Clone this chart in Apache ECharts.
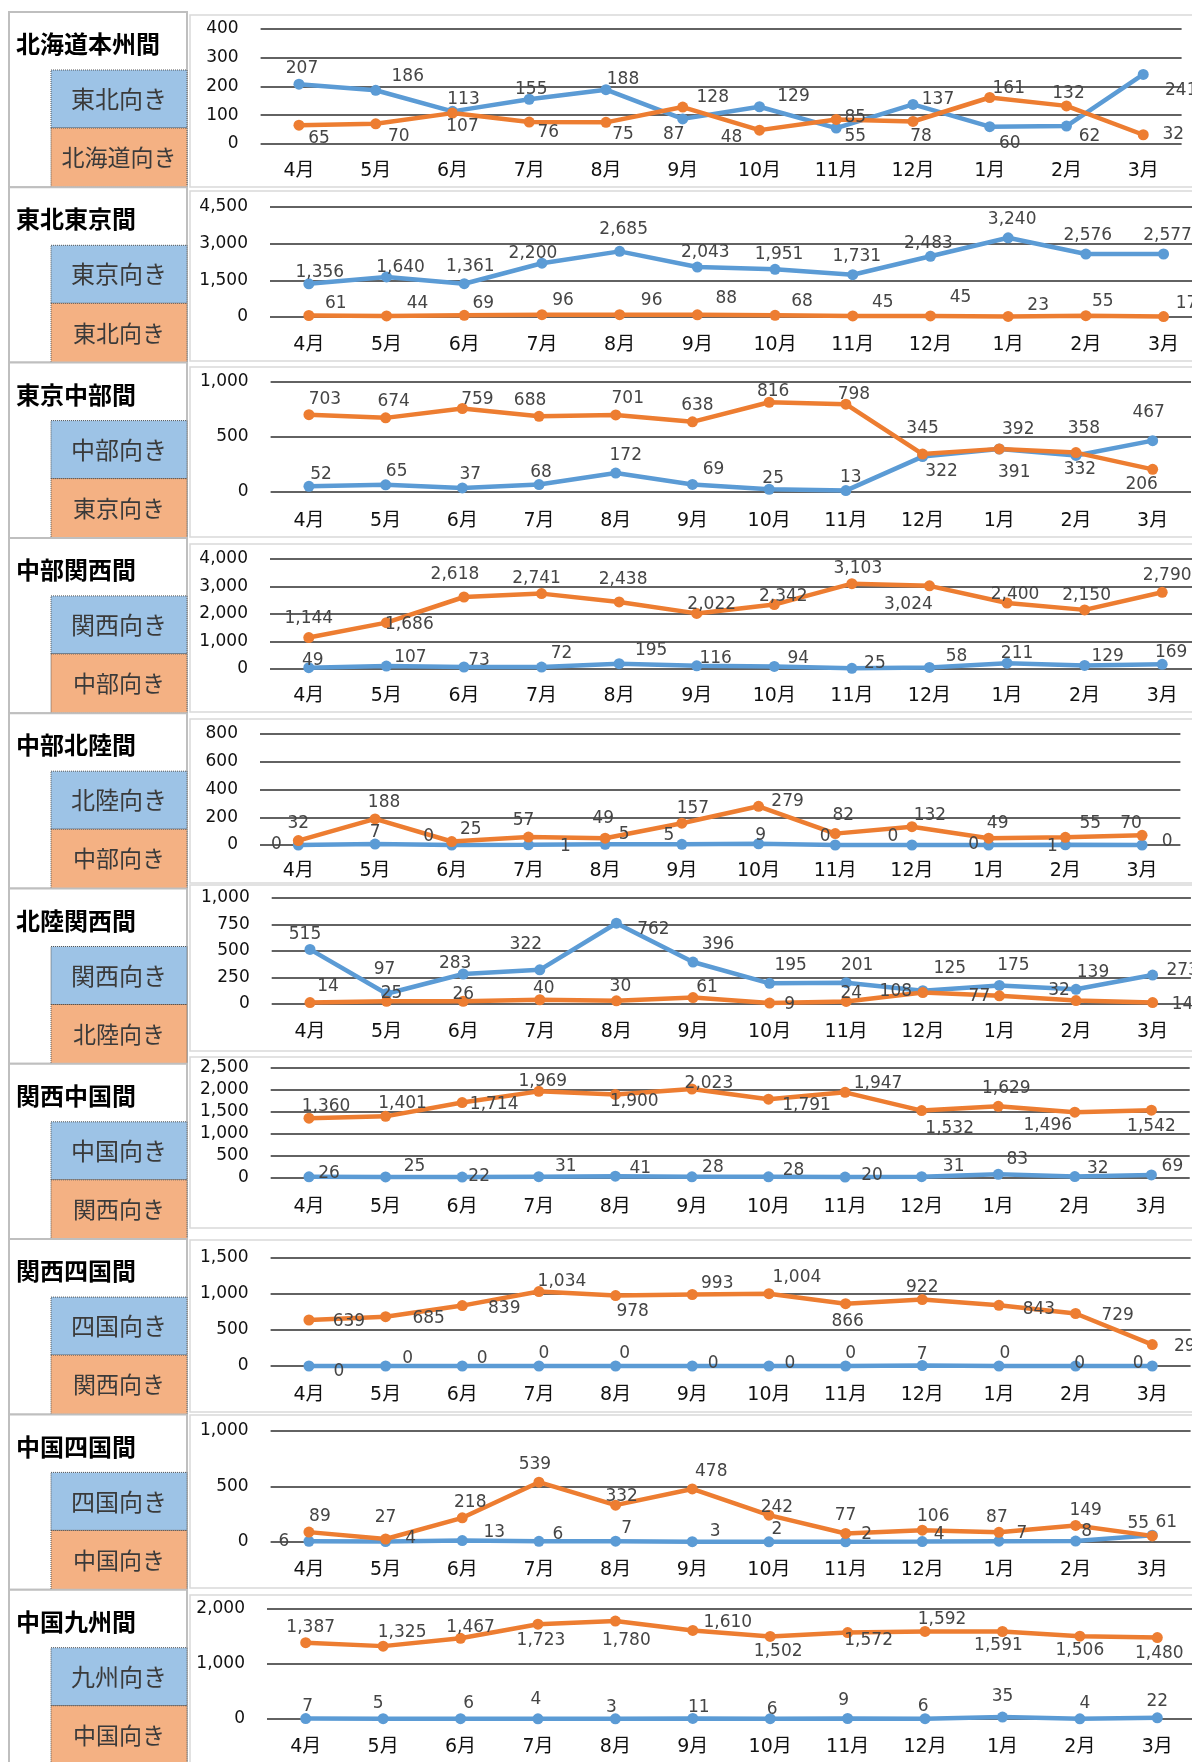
<!DOCTYPE html>
<html><head><meta charset="utf-8">
<script src="https://cdn.jsdelivr.net/npm/echarts/dist/echarts.min.js"></script>
<style>html,body{margin:0;padding:0;background:#fff}#c{width:1192px;height:1762px}</style>
</head><body><div id="c"></div><script>
// ---- data ----
const months = ['4月','5月','6月','7月','8月','9月','10月','11月','12月','1月','2月','3月'];
const titles = ['北海道本州間','東北東京間','東京中部間','中部関西間','中部北陸間','北陸関西間','関西中国間','関西四国間','中国四国間','中国九州間'];
const blueNames = ['東北向き','東京向き','中部向き','関西向き','北陸向き','関西向き','中国向き','四国向き','四国向き','九州向き'];
const orangeNames = ['北海道向き','東北向き','東京向き','中部向き','中部向き','北陸向き','関西向き','関西向き','中国向き','中国向き'];

const blue1 = [207,186,113,155,188,87,129,55,137,60,62,241];
const orange1 = [65,70,107,76,75,128,48,85,78,161,132,32];
const blue2 = [1356,1640,1361,2200,2685,2043,1951,1731,2483,3240,2576,2577];
const orange2 = [61,44,69,96,96,88,68,45,45,23,55,17];
const blue3 = [52,65,37,68,172,69,25,13,322,391,332,467];
const orange3 = [703,674,759,688,701,638,816,798,345,392,358,206];
const blue4 = [49,107,73,72,195,116,94,25,58,211,129,169];
const orange4 = [1144,1686,2618,2741,2438,2022,2342,3103,3024,2400,2150,2790];
const blue5 = [0,7,0,1,5,5,9,0,0,0,1,0];
const orange5 = [32,188,25,57,49,157,279,82,132,49,55,70];
const blue6 = [515,97,283,322,762,396,195,201,125,175,139,273];
const orange6 = [14,25,26,40,30,61,9,24,108,77,32,14];
const blue7 = [26,25,22,31,41,28,28,20,31,83,32,69];
const orange7 = [1360,1401,1714,1969,1900,2023,1791,1947,1532,1629,1496,1542];
const blue8 = [0,0,0,0,0,0,0,0,7,0,0,0];
const orange8 = [639,685,839,1034,978,993,1004,866,922,843,729,298];
const blue9 = [6,4,13,6,7,3,2,2,4,7,8,61];
const orange9 = [89,27,218,539,332,478,242,77,106,87,149,55];
const blue10 = [7,5,6,4,3,11,6,9,6,35,4,22];
const orange10 = [1387,1325,1467,1723,1780,1610,1502,1572,1592,1591,1506,1480];

const yMax = [400,4500,1000,4000,800,1000,2500,1500,1000,2000];
const yStep = [100,1500,500,1000,200,250,500,500,500,1000];

const blues = [blue1,blue2,blue3,blue4,blue5,blue6,blue7,blue8,blue9,blue10];
const oranges = [orange1,orange2,orange3,orange4,orange5,orange6,orange7,orange8,orange9,orange10];

// ---- layout (pixels) ----
const gridTop  = [28.5,207,382,559,734,898,1068,1258,1431,1609];
const gridH    = [115.5,110,110,110,111,106,110,108,111,110];
const gridLeft = [260.6,270,270.6,270,260,271.7,270.7,270.6,270.6,267];
const gridW    = [921,932.4,920.4,931,920.4,919.2,919,920,920,929];
const xLabMargin = [18,19,20,18,17,19,20,20,19,19];
const boxTop = [15,191,367,544,719,885,1057,1240,1415,1595];
const boxBot = [187,361,537,712,883,1051,1228,1412,1588,1770];

// label offsets [dx,dy] from each point
const offB = [
 [[3,-16],[32,-14],[11,-12],[2,-10],[17,-10],[-9,16],[34,-10],[19,8],[25,-5],[20,17],[23,10],[38,16]],
 [[11,-11],[14,-9],[6,-17],[-9,-10],[4,-22],[8,-14],[4,-15],[4,-18],[-2,-13],[4,-18],[2,-18],[4,-18]],
 [[12,-12],[11,-13],[8,-13],[2,-12],[10,-18],[21,-15],[4,-11],[5,-13],[19,15],[15,24],[4,14],[-4,-28]],
 [[4,-7],[24,-8],[15,-6],[20,-13],[32,-13],[19,-7],[24,-8],[23,-5],[27,-11],[10,-10],[23,-9],[9,-12]],
 [[-22,0],[0,-11],[-23,-8],[37,2],[19,-10],[-13,-9],[2,-8],[-10,-8],[-19,-8],[-15,0],[-13,2],[25,-3]],
 [[-5,-15],[-2,-24],[-8,-10],[-14,-25],[37,6],[25,-17],[21,-18],[11,-17],[27,-22],[14,-20],[17,-17],[30,-4]],
 [[20,-3],[29,-10],[17,0],[27,-10],[25,-8],[21,-9],[25,-6],[27,-2],[32,-10],[19,-15],[23,-8],[21,-8]],
 [[30,6],[22,-7],[20,-7],[5,-12],[9,-12],[21,-2],[21,-2],[5,-12],[0,-11],[6,-12],[4,-2],[-14,-2]],
 [[-25,0],[25,-3],[32,-8],[19,-7],[11,-13],[23,-10],[8,-12],[21,-7],[17,-7],[23,-8],[11,-10],[14,-13]],
 [[2,-12],[-5,-15],[8,-15],[-2,-19],[-4,-11],[6,-11],[2,-9],[-4,-18],[-2,-12],[0,-20],[5,-15],[0,-16]]
];
const offO = [
 [[20,13],[23,13],[10,13],[19,11],[17,12],[30,-9],[-28,7],[19,-2],[8,15],[19,-9],[2,-12],[30,0]],
 [[27,-12],[31,-12],[19,-12],[21,-14],[32,-14],[29,-16],[27,-14],[30,-13],[30,-18],[30,-11],[17,-14],[23,-13]],
 [[16,-15],[8,-16],[15,-9],[-9,-16],[12,-16],[5,-16],[4,-11],[8,-10],[0,-25],[19,-19],[8,-24],[-11,15]],
 [[0,-19],[23,2],[-9,-22],[-5,-15],[4,-22],[15,-9],[9,-8],[6,-15],[-21,19],[8,-8],[2,-14],[5,-17]],
 [[0,-17],[9,-16],[19,-12],[-5,-17],[-2,-20],[11,-15],[29,-5],[8,-18],[18,-11],[9,-15],[25,-14],[-11,-12]],
 [[18,-16],[5,-8],[0,-7],[4,-11],[4,-14],[14,-10],[20,2],[5,-8],[-27,-1],[-20,1],[-17,-10],[30,2]],
 [[17,-12],[17,-13],[32,2],[4,-10],[19,7],[17,-5],[38,6],[33,-9],[28,18],[8,-18],[-27,13],[0,16]],
 [[40,2],[43,2],[42,3],[23,-10],[17,16],[25,-11],[28,-16],[2,18],[0,-12],[40,4],[42,2],[38,2]],
 [[11,-16],[0,-21],[8,-15],[-4,-18],[6,-9],[19,-17],[8,-8],[0,-18],[11,-14],[-2,-15],[10,-15],[-14,-12]],
 [[5,-15],[19,-14],[10,-11],[3,16],[11,19],[35,-8],[8,15],[21,8],[17,-12],[-4,14],[0,14],[2,16]]
];

const BLUE = '#5B9BD5', ORANGE = '#ED7D31';
const NUMFONT = "'DejaVu Sans','Noto Sans CJK JP',sans-serif";
const fmt = v => Number(v).toLocaleString('en-US');

const grids = [], xAxes = [], yAxes = [], series = [], graphics = [];
for (let i = 0; i < 10; i++) {
  const T = 12 + 175.3 * i;
  grids.push({left: gridLeft[i], top: gridTop[i], width: gridW[i], height: gridH[i], outerBoundsMode: 'none', containLabel: false});
  xAxes.push({type: 'category', gridIndex: i, data: months, boundaryGap: true,
    axisLine: {show: false}, axisTick: {show: false},
    axisLabel: {margin: xLabMargin[i], color: '#111', fontSize: 19, fontFamily: NUMFONT, interval: 0}});
  yAxes.push({type: 'value', gridIndex: i, min: 0, max: yMax[i], interval: yStep[i],
    axisLine: {show: false}, axisTick: {show: false},
    axisLabel: {margin: 22, color: '#111', fontSize: 17, fontFamily: NUMFONT, formatter: fmt},
    splitLine: {lineStyle: {color: '#2e2e2e', width: 1.5}}});
  const mk = (vals, offs, color, name) => ({
    type: 'line', name: name, xAxisIndex: i, yAxisIndex: i, color: color,
    symbol: 'circle', symbolSize: 11, lineStyle: {width: 4.5, color: color}, itemStyle: {color: color},
    animation: false, clip: false,
    data: vals.map((v, k) => ({value: v, label: {offset: offs[k]}})),
    label: {show: true, position: 'inside', formatter: p => fmt(p.value),
      color: '#454545', fontSize: 17, fontFamily: NUMFONT}
  });
  series.push(mk(blues[i], offB[i], BLUE, blueNames[i]));
  series.push(mk(oranges[i], offO[i], ORANGE, orangeNames[i]));

  // chart frame
  graphics.push({type: 'rect', z: -10, shape: {x: 190, y: boxTop[i], width: 1020, height: boxBot[i] - boxTop[i]},
    style: {fill: 'none', stroke: '#D9D9D9', lineWidth: 1.5}});
  // left panel
  graphics.push({type: 'rect', shape: {x: 9, y: T, width: 178, height: 175.3},
    style: {fill: '#fff', stroke: '#BFBFBF', lineWidth: 2}});
  graphics.push({type: 'rect', shape: {x: 51, y: T + 58, width: 136, height: 58},
    style: {fill: '#9DC3E6', stroke: '#555', lineWidth: 1, lineDash: [1, 1]}});
  graphics.push({type: 'rect', shape: {x: 51, y: T + 116, width: 136, height: 59.3},
    style: {fill: '#F4B183', stroke: '#555', lineWidth: 1, lineDash: [1, 1]}});
  graphics.push({type: 'text', x: 16, y: T + 32, style: {text: titles[i], fill: '#000',
    font: "bold 24px 'Noto Sans CJK JP'", textVerticalAlign: 'middle', verticalAlign: 'middle'}});
  graphics.push({type: 'text', x: 119, y: T + 87, style: {text: blueNames[i], fill: '#3a3a3a',
    font: "24px 'Noto Sans CJK JP'", textAlign: 'center', align: 'center', textVerticalAlign: 'middle', verticalAlign: 'middle'}});
  graphics.push({type: 'text', x: 119, y: T + 145.5, style: {text: orangeNames[i], fill: '#3a3a3a',
    font: "23px 'Noto Sans CJK JP'", textAlign: 'center', align: 'center', textVerticalAlign: 'middle', verticalAlign: 'middle'}});
}

const chart = echarts.init(document.getElementById('c'), null, {renderer: 'canvas'});
chart.setOption({
  backgroundColor: '#fff', animation: false,
  grid: grids, xAxis: xAxes, yAxis: yAxes, series: series, graphic: graphics
});
</script></body></html>
